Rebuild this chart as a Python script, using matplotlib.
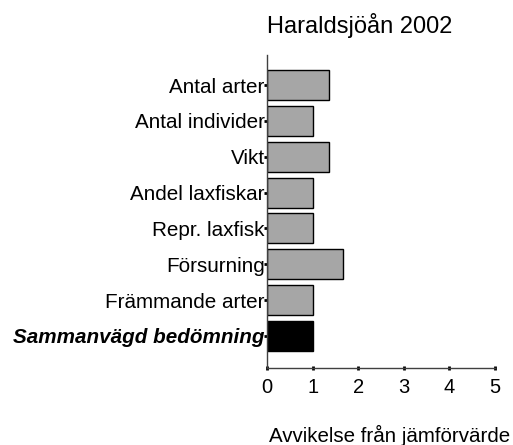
import matplotlib
matplotlib.use("Agg")
import matplotlib.pyplot as plt
import numpy as np

categories = ["Antal arter", "Antal individer", "Vikt", "Andel laxfiskar",
              "Repr. laxfisk", "Försurning", "Främmande arter", "Sammanvägd bedömning"]
values = [1.35, 1.0, 1.35, 1.0, 1.0, 1.67, 1.0, 1.0]
colors = ["#a6a6a6"] * 7 + ["#000000"]
xticks = [0, 1, 2, 3, 4, 5]
title = "Haraldsjöån 2002"
xlabel = "Avvikelse från jämförvärde"

plt.rcParams['font.family'] = ['Liberation Sans', 'DejaVu Sans']

fig = plt.figure(figsize=(5.13, 4.45), dpi=100)
ax = fig.add_axes([267/513, 1-367.7/445, (495-267)/513, (367.7-55)/445])

y = np.arange(len(categories))
ax.barh(y, values, height=0.84, color=colors, edgecolor="black", linewidth=1)
ax.set_ylim(7.89, -0.84)
ax.set_xlim(0, 5)
ax.set_yticks(y)
ax.set_yticklabels(categories, fontsize=14.9)
lbl = ax.get_yticklabels()[-1]
lbl.set_fontweight("bold")
lbl.set_fontstyle("italic")
ax.set_xticks(xticks)
ax.set_xticklabels([str(t) for t in xticks], fontsize=14.5)
ax.tick_params(axis="y", direction="out", length=2.5, width=2, pad=-0.8, color="black")
ax.tick_params(axis="x", direction="inout", length=3, width=2, pad=6, color="black")

for s in ["top", "right"]:
    ax.spines[s].set_visible(False)
for s in ["left", "bottom"]:
    ax.spines[s].set_color("#404040")
    ax.spines[s].set_linewidth(1)

fig.text(360/513, 1-33/445, title, ha="center", va="baseline", fontsize=17)
fig.text(389.5/513, 1-442/445, xlabel, ha="center", va="baseline", fontsize=14.8)

fig.savefig("out.png", dpi=100)
